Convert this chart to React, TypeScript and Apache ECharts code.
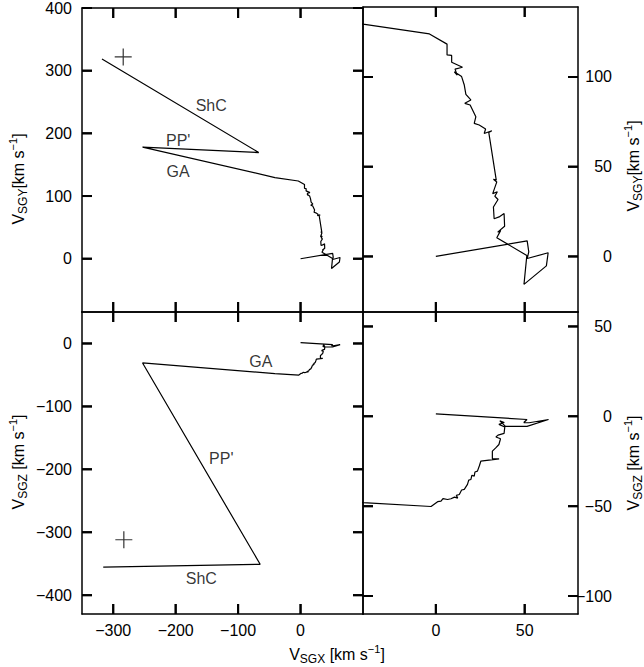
import React, { useEffect, useRef } from "react";
import * as echarts from "echarts";

// ---------- data ----------
// trajectory projected on SGX–SGY plane (km/s)
const pathXY: number[][] = [
  [0, 0], [51.4, 8.6], [52.3, 2.5], [51.4, -1.2], [63.2, 2.0], [62.2, -5.3], [49.6, -15.6], [51.2, 0.5],
  [34.3, 10.4], [36.5, 14.5], [34.8, 13.5], [38.7, 16.8], [38.4, 23.9], [35.6, 22], [32.8, 21],
  [32.4, 27.5], [35, 31.7], [33.2, 33.5], [34.6, 36], [32, 35], [34.3, 41.5], [32.4, 43], [34, 42.5],
  [29.8, 69], [31.5, 70], [27.2, 68.5], [28, 71], [24.4, 73.2], [21.6, 74.1], [22.5, 77.8],
  [19.3, 84.4], [16.3, 85.3], [19.7, 87.2], [16.9, 90.3], [16, 95.5], [14.5, 100.2], [10.4, 102.9],
  [12, 101], [10.8, 104.4], [15, 105.4], [8.9, 108.2], [8.9, 112], [6.3, 112.3], [6.3, 118.3],
  [-3.6, 124], [-41, 129.5], [-253, 178], [-67, 169.4], [-318, 318.6],
];
// trajectory projected on SGX–SGZ plane (km/s)
const pathXZ: number[][] = [
  [0, 1.3], [51.3, -1.8], [49.5, -3.5], [52.5, -3.6], [63.4, -1.8], [51.3, -5.6], [39.2, -5.6],
  [36, -2.6], [38.5, -3.5], [35.5, -4.5], [38.8, -6], [38.4, -9.5], [35, -10.5], [33.8, -11.5],
  [36.4, -12.5], [35.5, -15.7], [33.7, -17.6], [31.8, -19.4], [31.8, -23.7], [35.6, -23.7],
  [25.3, -25], [24.5, -27.5], [23.4, -30.5], [22, -31], [21.6, -33.3], [20.3, -32.8], [19.7, -35.2],
  [18.5, -35.5], [17.8, -37.9], [16, -40.7], [14.5, -41], [13.2, -43.5], [11.5, -44], [12.3, -45.5],
  [10.5, -45], [8.5, -45.9], [6.6, -46.3], [4, -45.8], [2.9, -47.2], [1, -47.5], [-2.7, -50.2],
  [-41, -48], [-253, -31], [-64.7, -351], [-316, -355.5],
];
const cmbXY = [-284, 322];
const cmbXZ = [-283, -312];
const labelsXY = [
  { name: "ShC", value: [-143, 244] },
  { name: "PP'", value: [-196, 189] },
  { name: "GA", value: [-196, 138.6] },
];
const labelsXZ = [
  { name: "GA", value: [-63.6, -28.4] },
  { name: "PP'", value: [-127, -182.6] },
  { name: "ShC", value: [-159, -373.8] },
];
const ticksLeftX = [-300, -200, -100, 0];
const ticksRightX = [0, 50];
const ticksTLY = [0, 100, 200, 300, 400];
const ticksTRY = [0, 50, 100];
const ticksBLY = [-400, -300, -200, -100, 0];
const ticksBRY = [-100, -50, 0, 50];

// axis ranges
const rangeLeftX = [-350, 100];
const rangeRightX = [-41, 80];
const rangeTLY = [-85, 400];
const rangeTRY = [-31, 139];
const rangeBLY = [-430, 50];
const rangeBRY = [-110, 58];

// ---------- layout / style ----------
const FONT = '"Liberation Sans", Arial, Helvetica, sans-serif';
const fmt = (v: number) => (v < 0 ? "\u2212" + Math.abs(v) : String(v));
const TICK_LEN = 10; // px
const TICK_W = 2;
const AXIS_W = 1.5;
const GRIDS = [
  { left: 82, top: 7, width: 281, height: 305 },
  { left: 363, top: 7, width: 215, height: 305 },
  { left: 82, top: 312, width: 281, height: 302 },
  { left: 363, top: 312, width: 215, height: 302 },
];

function axis(
  gridIndex: number,
  position: string,
  range: number[],
  ticks: number[],
  showLabel: boolean,
  labelExtra: any = {}
) {
  return {
    type: "value",
    gridIndex,
    position,
    min: range[0],
    max: range[1],
    splitLine: { show: false },
    axisLine: { show: true, onZero: false, lineStyle: { color: "#000", width: AXIS_W } },
    axisTick: { show: false },
    axisLabel: {
      show: showLabel,
      customValues: ticks,
      formatter: fmt,
      color: "#000",
      fontFamily: FONT,
      fontSize: 16,
      ...labelExtra,
    },
  };
}

const titleRich = {
  v: { fontSize: 16, lineHeight: 22, fontFamily: FONT, fill: "#000" },
  s: { fontSize: 12, lineHeight: 12, fontFamily: FONT, fill: "#000", verticalAlign: "bottom" },
  p: { fontSize: 11, lineHeight: 11, fontFamily: FONT, fill: "#000", verticalAlign: "top" },
};

function title(text: string, x: number, y: number, rotated: boolean) {
  return {
    type: "text",
    x,
    y,
    rotation: rotated ? Math.PI / 2 : 0,
    style: {
      text,
      rich: titleRich,
      align: "center",
      verticalAlign: "middle",
      fill: "#000",
      font: `16px ${FONT}`,
    },
  };
}

const titles = () => [
  title("{v|V}{s|SGY}{v|[km s}{p|\u22121}{v|]}", 18, 179, true),
  title("{v|V}{s|SGZ}{v| [km s}{p|\u22121}{v|]}", 18, 462, true),
  title("{v|V}{s|SGY}{v|[km s}{p|\u22121}{v|]}", 633, 166, true),
  title("{v|V}{s|SGZ}{v| [km s}{p|\u22121}{v|]}", 633, 463, true),
  title("{v|V}{s|SGX}{v| [km s}{p|\u22121}{v|]}", 337, 654, false),
];

// grid definitions for tick placement: axis indices, tick values, ranges
const TICK_GRIDS = [
  { xi: 0, yi: 0, g: GRIDS[0], tx: ticksLeftX, ty: ticksTLY, rx: rangeLeftX, ry: rangeTLY },
  { xi: 2, yi: 2, g: GRIDS[1], tx: ticksRightX, ty: ticksTRY, rx: rangeRightX, ry: rangeTRY },
  { xi: 4, yi: 4, g: GRIDS[2], tx: ticksLeftX, ty: ticksBLY, rx: rangeLeftX, ry: rangeBLY },
  { xi: 6, yi: 6, g: GRIDS[3], tx: ticksRightX, ty: ticksBRY, rx: rangeRightX, ry: rangeBRY },
];

// inward tick marks as short broken line segments in data space (one series per grid)
function tickSeries(t: (typeof TICK_GRIDS)[number]) {
  const dy = ((t.ry[1] - t.ry[0]) * TICK_LEN) / t.g.height;
  const dx = ((t.rx[1] - t.rx[0]) * TICK_LEN) / t.g.width;
  const gap = ["-", "-"];
  const data: any[] = [];
  t.tx.forEach((v) => {
    data.push([v, t.ry[0]], [v, t.ry[0] + dy], gap);
    data.push([v, t.ry[1]], [v, t.ry[1] - dy], gap);
  });
  t.ty.forEach((v) => {
    data.push([t.rx[0], v], [t.rx[0] + dx, v], gap);
    data.push([t.rx[1], v], [t.rx[1] - dx, v], gap);
  });
  return {
    type: "line",
    xAxisIndex: t.xi,
    yAxisIndex: t.yi,
    data,
    symbol: "none",
    showSymbol: false,
    connectNulls: false,
    silent: true,
    z: 6,
    lineStyle: { color: "#000", width: TICK_W },
  };
}

export default function App() {
  const ref = useRef<HTMLDivElement>(null);
  useEffect(() => {
    if (!ref.current) return;
    const chart = echarts.init(ref.current, undefined, { renderer: "svg" });
    const lineSeries = (xi: number, yi: number, data: number[][]) => ({
      type: "line",
      xAxisIndex: xi,
      yAxisIndex: yi,
      data,
      symbol: "none",
      showSymbol: false,
      clip: true,
      silent: true,
      lineStyle: { color: "#000", width: 1.2 },
      z: 3,
    });
    const marker = (xi: number, yi: number, p: number[]) => ({
      type: "scatter",
      xAxisIndex: xi,
      yAxisIndex: yi,
      symbol: "path://M0,8.5H17M8.5,0V17",
      symbolSize: 17,
      silent: true,
      itemStyle: { color: "rgba(0,0,0,0)", borderColor: "#000", borderWidth: 1.2 },
      data: [p],
    });
    const texts = (xi: number, yi: number, data: any[]) => ({
      type: "scatter",
      xAxisIndex: xi,
      yAxisIndex: yi,
      symbolSize: 1,
      silent: true,
      itemStyle: { color: "rgba(0,0,0,0)" },
      label: {
        show: true,
        position: "inside",
        formatter: "{b}",
        color: "#000",
        fontFamily: FONT,
        fontSize: 16,
      },
      data,
    });
    const rightLabel = { align: "right", margin: 34 };
    chart.setOption({
      animation: false,
      grid: GRIDS,
      xAxis: [
        axis(0, "bottom", rangeLeftX, ticksLeftX, false),
        axis(0, "top", rangeLeftX, ticksLeftX, false),
        axis(1, "bottom", rangeRightX, ticksRightX, false),
        axis(1, "top", rangeRightX, ticksRightX, false),
        axis(2, "bottom", rangeLeftX, ticksLeftX, true, { margin: 8 }),
        axis(2, "top", rangeLeftX, ticksLeftX, false),
        axis(3, "bottom", rangeRightX, ticksRightX, true, { margin: 8 }),
        axis(3, "top", rangeRightX, ticksRightX, false),
      ],
      yAxis: [
        axis(0, "left", rangeTLY, ticksTLY, true, { margin: 10 }),
        axis(0, "right", rangeTLY, ticksTLY, false),
        axis(1, "left", rangeTRY, ticksTRY, false),
        axis(1, "right", rangeTRY, ticksTRY, true, rightLabel),
        axis(2, "left", rangeBLY, ticksBLY, true, { margin: 10 }),
        axis(2, "right", rangeBLY, ticksBLY, false),
        axis(3, "left", rangeBRY, ticksBRY, false),
        axis(3, "right", rangeBRY, ticksBRY, true, rightLabel),
      ],
      series: [
        lineSeries(0, 0, pathXY),
        lineSeries(2, 2, pathXY),
        lineSeries(4, 4, pathXZ),
        lineSeries(6, 6, pathXZ),
        marker(0, 0, cmbXY),
        marker(4, 4, cmbXZ),
        texts(0, 0, labelsXY),
        texts(4, 4, labelsXZ),
        ...TICK_GRIDS.map(tickSeries),
      ],
      graphic: titles(),
    });

    // the same inward ticks again as graphic lines, positioned through the axes' own scales
    const tickStyle = { stroke: "#000", lineWidth: TICK_W };
    const tickEls: any[] = [];
    TICK_GRIDS.forEach((t) => {
      const finder = { xAxisIndex: t.xi, yAxisIndex: t.yi };
      const px = (v: number[]) => chart.convertToPixel(finder as any, v) as unknown as number[];
      t.tx.forEach((v) => {
        const b = px([v, t.ry[0]]);
        const tp = px([v, t.ry[1]]);
        if (b) tickEls.push({ type: "line", silent: true, z: 100, shape: { x1: b[0], y1: b[1], x2: b[0], y2: b[1] - TICK_LEN }, style: tickStyle });
        if (tp) tickEls.push({ type: "line", silent: true, z: 100, shape: { x1: tp[0], y1: tp[1], x2: tp[0], y2: tp[1] + TICK_LEN }, style: tickStyle });
      });
      t.ty.forEach((v) => {
        const l = px([t.rx[0], v]);
        const r = px([t.rx[1], v]);
        if (l) tickEls.push({ type: "line", silent: true, z: 100, shape: { x1: l[0], y1: l[1], x2: l[0] + TICK_LEN, y2: l[1] }, style: tickStyle });
        if (r) tickEls.push({ type: "line", silent: true, z: 100, shape: { x1: r[0], y1: r[1], x2: r[0] - TICK_LEN, y2: r[1] }, style: tickStyle });
      });
    });
    chart.setOption({ graphic: [...titles(), ...tickEls] });

    return () => chart.dispose();
  }, []);
  return (
    <div
      ref={ref}
      style={{ position: "absolute", left: 0, top: 0, width: 644, height: 667 }}
    />
  );
}
